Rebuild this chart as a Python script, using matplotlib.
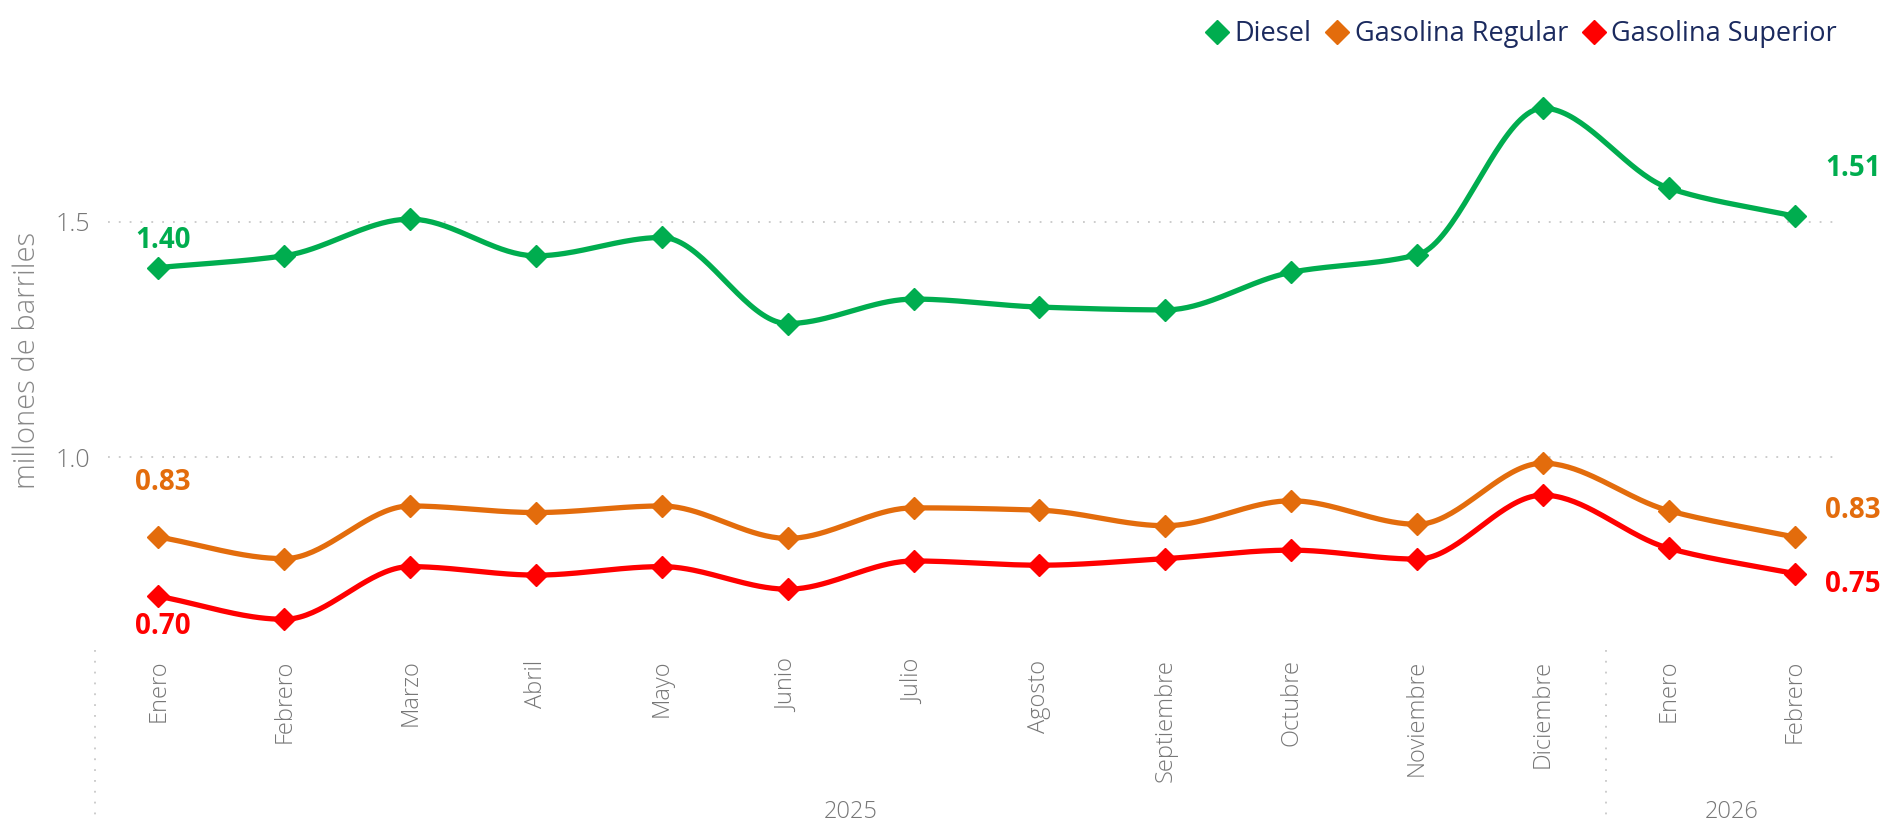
import numpy as np
import matplotlib
matplotlib.use("Agg")
import matplotlib.pyplot as plt
import matplotlib.transforms as mtransforms
from matplotlib.lines import Line2D

plt.rcParams['font.family'] = ['Open Sans', 'DejaVu Sans']

meses = ['Enero', 'Febrero', 'Marzo', 'Abril', 'Mayo', 'Junio', 'Julio', 'Agosto',
         'Septiembre', 'Octubre', 'Noviembre', 'Diciembre', 'Enero', 'Febrero']
anios = ['2025', '2026']
meses_por_anio = [12, 2]

diesel = [1.403, 1.428, 1.506, 1.428, 1.467, 1.284, 1.336, 1.319, 1.313, 1.393,
          1.430, 1.742, 1.572, 1.512]
regular = [0.830, 0.784, 0.896, 0.882, 0.896, 0.827, 0.892, 0.887, 0.854, 0.907,
           0.857, 0.987, 0.886, 0.830]
superior = [0.704, 0.655, 0.767, 0.749, 0.767, 0.719, 0.779, 0.770, 0.784, 0.802,
            0.783, 0.919, 0.806, 0.752]

series = [('Diesel', diesel, '#00AD4F'),
          ('Gasolina Regular', regular, '#E36C0C'),
          ('Gasolina Superior', superior, '#FF0000')]


def curva_suave(y, pasos=40):
    # interpolacion cubica monotona (como las lineas suavizadas de Power BI)
    y = np.asarray(y, dtype=float)
    n = len(y)
    d = np.diff(y)
    m = np.zeros(n)
    m[0], m[-1] = d[0], d[-1]
    for i in range(1, n - 1):
        if d[i - 1] * d[i] > 0:
            m[i] = 2 / (1 / d[i - 1] + 1 / d[i])
    xs, ys = [], []
    for i in range(n - 1):
        t = np.linspace(0, 1, pasos, endpoint=False)
        h00 = 2 * t**3 - 3 * t**2 + 1
        h10 = t**3 - 2 * t**2 + t
        h01 = -2 * t**3 + 3 * t**2
        h11 = t**3 - t**2
        xs.append(i + t)
        ys.append(h00 * y[i] + h10 * m[i] + h01 * y[i + 1] + h11 * m[i + 1])
    xs.append([n - 1])
    ys.append([y[-1]])
    return np.concatenate(xs), np.concatenate(ys)


fig = plt.figure(figsize=(18.86, 8.21), dpi=100)
ax = fig.add_axes([0.0573, 0.2205, 0.9183, 0.6821])

x = np.arange(len(meses))
for nombre, valores, color in series:
    xs, ys = curva_suave(valores)
    ax.plot(xs, ys, color=color, lw=3.8, solid_capstyle='round', zorder=3)
    ax.plot(x, valores, 'D', color=color, ms=11, zorder=4)

# etiquetas de datos (primero y ultimo)
offsets_ini = {'Diesel': (5, 27), 'Gasolina Regular': (4, 54), 'Gasolina Superior': (4, -30)}
offsets_fin = {'Diesel': (58, 48), 'Gasolina Regular': (58, 26), 'Gasolina Superior': (58, -11)}
for nombre, valores, color in series:
    for idx, off in ((0, offsets_ini[nombre]), (len(valores) - 1, offsets_fin[nombre])):
        ax.annotate(f'{valores[idx]:.2f}', (x[idx], valores[idx]), xytext=off,
                    textcoords='offset pixels', ha='center', va='center',
                    fontsize=20, fontweight='bold', color=color, zorder=5)

ax.set_xlim(-0.4, 13.36)
ax.set_ylim(0.611, 1.802)
ax.set_yticks([1.0, 1.5])
ax.set_yticklabels(['1.0', '1.5'])
ax.grid(axis='y', color='#C8C8C8', lw=1.3, ls=(0, (1, 5)))
ax.set_axisbelow(True)
for s in ax.spines.values():
    s.set_visible(False)
ax.tick_params(axis='y', length=0, pad=13, labelsize=18, labelcolor='#777777')
ax.tick_params(axis='x', length=0, pad=14, labelsize=17, labelcolor='#777777')
ax.set_xticks(x)
ax.set_xticklabels(meses, rotation=90, va='top', ha='center', fontweight='light')
for lbl in ax.get_yticklabels():
    lbl.set_fontweight('light')
ax.set_ylabel('millones de barriles', fontsize=21, color='#888888',
              fontweight='light')
ax.yaxis.set_label_coords(-0.038, 0.5)

# anios y separadores
trans = mtransforms.blended_transform_factory(ax.transData, ax.transAxes)
inicio = 0
for anio, n in zip(anios, meses_por_anio):
    centro = inicio + (n - 1) / 2
    ax.text(centro, -0.307, anio, transform=trans, ha='center', va='center',
            fontsize=17, color='#777777', fontweight='light')
    ax.plot([inicio - 0.5, inicio - 0.5], [-0.018, -0.325], transform=trans,
            color='#C8C8C8', lw=1.3, ls=(0, (1, 5)), clip_on=False)
    inicio += n

handles = [Line2D([], [], marker='D', ls='none', color=c, ms=12) for _, _, c in series]
fig.legend(handles, [s[0] for s in series], loc='center right',
           bbox_to_anchor=(0.987, 0.958), ncol=3, frameon=False, fontsize=19.5,
           handlelength=0.7, handletextpad=0.3, columnspacing=0.6,
           labelcolor='#1B2A5E')

fig.savefig('out.png', dpi=100, facecolor='white')
